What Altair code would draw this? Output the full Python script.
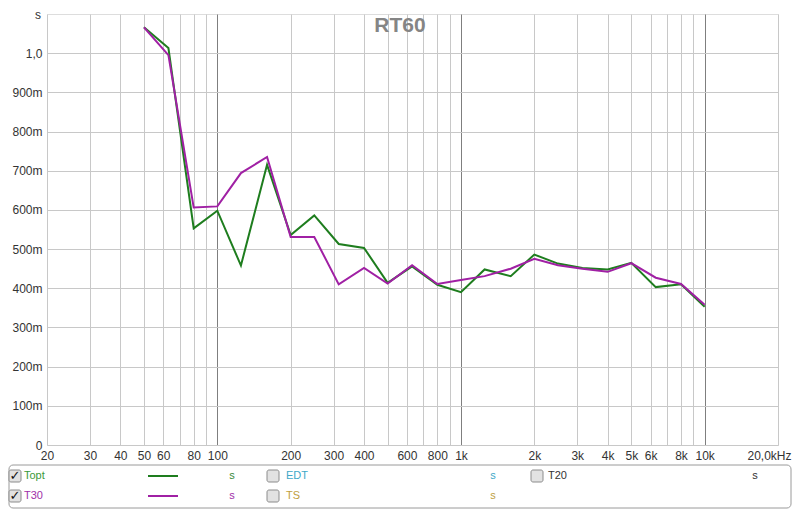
import altair as alt
import pandas as pd

# Third-octave centre frequencies (Hz)
freqs = [50, 63, 80, 100, 125, 160, 200, 250, 315, 400, 500, 630, 800, 1000,
         1250, 1600, 2000, 2500, 3150, 4000, 5000, 6300, 8000, 10000]
# RT60 values in seconds
topt = [1.066, 1.013, 0.553, 0.598, 0.458, 0.715, 0.536, 0.586, 0.513, 0.503,
        0.414, 0.456, 0.409, 0.390, 0.448, 0.431, 0.486, 0.463, 0.452, 0.448,
        0.465, 0.403, 0.410, 0.353]
t30 = [1.066, 0.995, 0.606, 0.609, 0.694, 0.735, 0.531, 0.531, 0.410, 0.452,
       0.412, 0.459, 0.411, 0.421, 0.431, 0.450, 0.475, 0.459, 0.450, 0.442,
       0.464, 0.427, 0.411, 0.358]

series_names = ["Topt", "T30"]
series_colors = ["#1e7d1e", "#a020a4"]

x_tick_vals = [20, 30, 40, 50, 60, 70, 80, 90, 100, 200, 300, 400, 500, 600, 700, 800, 900,
               1000, 2000, 3000, 4000, 5000, 6000, 7000, 8000, 9000, 10000, 20000]
x_tick_labels = ["20", "30", "40", "50", "60", "", "80", "", "100", "200", "300", "400", "",
                 "600", "", "800", "", "1k", "2k", "3k", "4k", "5k", "6k", "", "8k", "", "10k",
                 "20,0kHz"]
y_tick_vals = [0, 0.1, 0.2, 0.3, 0.4, 0.5, 0.6, 0.7, 0.8, 0.9, 1.0]
y_tick_labels = ["0", "100m", "200m", "300m", "400m", "500m", "600m", "700m", "800m", "900m", "1,0"]
major_x = [100, 1000, 10000]


def label_expr(vals, labels):
    expr = "''"
    for v, l in reversed(list(zip(vals, labels))):
        expr = f"(abs(datum.value - {v}) < 1e-6 ? '{l}' : {expr})"
    return expr


rows = []
for f, a, b in zip(freqs, topt, t30):
    rows.append({"freq": f, "rt": a, "series": "Topt"})
    rows.append({"freq": f, "rt": b, "series": "T30"})
df = pd.DataFrame(rows)

FONT = "Liberation Sans"
FONT_N = "Liberation Sans Narrow, Liberation Sans"
W, H = 731, 431

major_test = " || ".join(f"datum.value == {m}" for m in major_x)
last_test = "datum.value == 20000"

lines = alt.Chart(df).mark_line(strokeWidth=2).encode(
    x=alt.X("freq:Q",
            scale=alt.Scale(type="log", domain=[20, 20000], nice=False),
            axis=alt.Axis(values=x_tick_vals, labelExpr=label_expr(x_tick_vals, x_tick_labels),
                          title=None, ticks=False, domain=False, labelFont=FONT,
                          labelFontSize=12, labelColor="#333333", labelPadding=5,
                          labelFlush=False, labelOverlap=False,
                          labelAlign={"condition": {"test": last_test, "value": "right"},
                                      "value": "center"},
                          labelOffset={"condition": {"test": last_test, "value": 13},
                                       "value": 0},
                          gridColor={"condition": {"test": major_test, "value": "#7f7f7f"},
                                     "value": "#c8c8c8"},
                          gridWidth=1)),
    y=alt.Y("rt:Q",
            scale=alt.Scale(domain=[0, 1.1], nice=False),
            axis=alt.Axis(values=y_tick_vals, labelExpr=label_expr(y_tick_vals, y_tick_labels),
                          title=None, ticks=False, domain=False, labelFont=FONT,
                          labelFontSize=12, labelColor="#333333", labelPadding=5,
                          gridColor="#c8c8c8", labelFlush=False, labelOverlap=False)),
    color=alt.Color("series:N", scale=alt.Scale(domain=series_names, range=series_colors),
                    legend=None),
    detail="series:N",
)

one = pd.DataFrame({"a": [0]})


def txt(s, x, y, color, size=11, align="left", weight="normal", font=FONT_N, baseline="middle"):
    return alt.Chart(one).mark_text(text=s, align=align, baseline=baseline, fontSize=size,
                                    color=color, font=font, fontWeight=weight).encode(
        x=alt.value(x), y=alt.value(y))


def box(x, y, checked):
    layers = [alt.Chart(one).mark_rect(fill="#e2e2e2", stroke="#8c8c8c", strokeWidth=1,
                                       cornerRadius=2).encode(
        x=alt.value(x - 6), x2=alt.value(x + 6), y=alt.value(y - 6), y2=alt.value(y + 6))]
    if checked:
        layers.append(txt("✓", x, y, "#111111", size=13, align="center", weight="bold",
                          font="DejaVu Sans"))
    return layers


def sample(y, color):
    return alt.Chart(one).mark_rule(color=color, strokeWidth=2).encode(
        x=alt.value(101), x2=alt.value(131), y=alt.value(y))


r1, r2 = 462, 482
legend_layers = [
    alt.Chart(one).mark_rect(fill="white", stroke="#9a9a9a", strokeWidth=1,
                             cornerRadius=4).encode(
        x=alt.value(-38), x2=alt.value(744), y=alt.value(451), y2=alt.value(494)),
]
legend_layers += box(-32, r1, True)
legend_layers += box(-32, r2, True)
legend_layers += box(226, r1, False)
legend_layers += box(226, r2, False)
legend_layers += box(490, r1, False)
legend_layers += [
    txt("Topt", -23, r1, "#3a9a3a"),
    txt("T30", -23, r2, "#a030a8"),
    sample(r1, series_colors[0]),
    sample(r2, series_colors[1]),
    txt("s", 185, r1, "#3a8a3a", align="center"),
    txt("s", 185, r2, "#a030a8", align="center"),
    txt("EDT", 239, r1, "#40a8c8"),
    txt("TS", 239, r2, "#c0a040"),
    txt("s", 446, r1, "#40a8c8", align="center"),
    txt("s", 446, r2, "#c0a040", align="center"),
    txt("T20", 501, r1, "#333333"),
    txt("s", 708, r1, "#333333", align="center"),
]

title = txt("RT60", 353, 12, "#858585", size=21, align="center", weight="bold", font=FONT)
unit = txt("s", -9, -4, "#333333", size=12, align="center", font=FONT, baseline="top")

chart = alt.layer(lines, title, unit, *legend_layers).properties(
    width=W, height=H,
    autosize=alt.AutoSizeParams(type="none"),
    padding={"left": 39, "top": 6, "right": 14, "bottom": 64},
).configure_view(stroke="#a0a0a0", strokeWidth=2).configure(background="white")

chart.save("out.html", embed_options={"renderer": "svg", "actions": False})
